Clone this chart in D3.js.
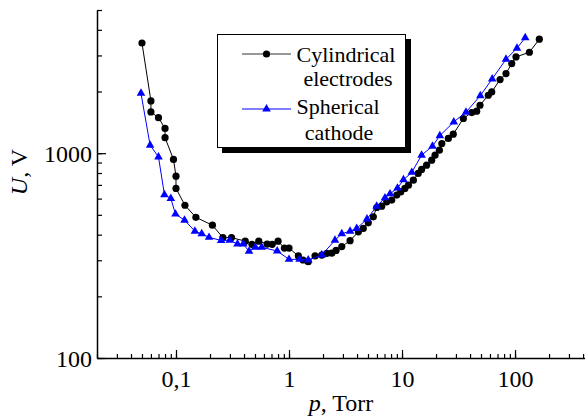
<!DOCTYPE html>
<html><head><meta charset="utf-8">
<script src="https://cdn.jsdelivr.net/npm/d3@7"></script>
<style>body{margin:0;background:#fff}svg{display:block}svg text{font-family:"Liberation Serif","Times New Roman",serif !important}</style>
</head><body><svg id="c" width="585" height="417"></svg>
<script>
const cylP=[0.05,0.06,0.06,0.07,0.08,0.08,0.095,0.1,0.1,0.12,0.15,0.21,0.26,0.31,0.41,0.47,0.54,0.64,0.71,0.8,0.91,1.0,1.21,1.33,1.48,1.7,1.95,2.16,2.39,2.61,2.93,3.47,4.11,4.54,5.03,5.57,5.97,6.61,7.32,8.11,8.98,9.74,10.6,11.4,12.6,13.9,14.9,16.5,18.3,19.6,21.4,22.5,25.7,28.4,34.9,41.4,45.8,49,58,62.2,73.7,83.2,93.5,102,134,164];
const cylU=[3450,1800,1590,1490,1320,1190,932,772,673,557,486,445,387,387,372,359,372,360,359,372,344,344,315,301,295,315,318,324,325,335,350,374,413,429,457,489,543,551,579,590,624,647,673,698,738,796,833,874,924,978,1034,1115,1180,1238,1477,1579,1603,1714,1918,1991,2288,2448,2739,2950,3110,3600];
const sphP=[0.049,0.059,0.07,0.079,0.09,0.099,0.119,0.147,0.169,0.196,0.251,0.299,0.35,0.394,0.443,0.503,0.573,0.786,1.0,1.24,1.48,1.95,2.55,2.93,3.47,3.97,4.9,5.97,7.07,7.83,9.12,10.3,12.2,14.9,18.6,21.6,28.7,36.8,49.3,62.8,83.2,104,123];
const sphU=[1960,1094,959,627,601,504,471,416,404,388,375,376,360,360,332,347,347,333,303,303,301,318,376,404,416,429,477,551,605,633,675,741,806,978,1082,1217,1421,1585,1908,2304,2873,3252,3660];
const xMajor=[0.1,1,10,100];
const xTickLabels=["0,1","1","10","100"];
const yMajor=[100,1000];
const yTickLabels=["100","1000"];
const legendLines=[["Cylindrical","electrodes"],["Spherical","cathode"]];

const FONT='"Liberation Serif","Times New Roman",serif';
const svg=d3.select("#c");
const x=d3.scaleLog().domain([0.02,416]).range([97,585]);
const y=d3.scaleLog().domain([100,5000]).range([358,10]);

function styleAxis(g){
  g.attr("font-family",FONT).attr("font-size",24);
  g.selectAll("path.domain").attr("stroke","#000").attr("stroke-width",1.5);
  g.selectAll(".tick line").attr("stroke","#000").attr("stroke-width",1.2);
  g.selectAll("text").attr("fill","#000");
}
// x axis
const gx1=svg.append("g").attr("transform","translate(0,358)")
  .call(d3.axisBottom(x).tickValues(x.ticks()).tickSize(-4).tickSizeOuter(0).tickFormat(""));
styleAxis(gx1);
const gx2=svg.append("g").attr("transform","translate(0,358)")
  .call(d3.axisBottom(x).tickValues(xMajor).tickSize(-8).tickSizeOuter(0).tickPadding(12).tickFormat((d,i)=>xTickLabels[i]));
styleAxis(gx2); gx2.select("path.domain").remove();
// y axis
const gy1=svg.append("g").attr("transform","translate(97,0)")
  .call(d3.axisLeft(y).tickValues(y.ticks()).tickSize(-5).tickSizeOuter(0).tickFormat(""));
styleAxis(gy1);
const gy2=svg.append("g").attr("transform","translate(97,0)")
  .call(d3.axisLeft(y).tickValues(yMajor).tickSize(-9).tickSizeOuter(0).tickPadding(5).tickFormat((d,i)=>yTickLabels[i]));
styleAxis(gy2); gy2.select("path.domain").remove();
gy2.selectAll("text").attr("dy","0.35em");

// titles
const xt=svg.append("text").attr("x",341).attr("y",411).attr("text-anchor","middle")
  .attr("font-family",FONT).attr("font-size",24);
xt.append("tspan").attr("font-style","italic").text("p");
xt.append("tspan").text(", Torr");
const yt=svg.append("text").attr("transform","translate(27,172) rotate(-90)").attr("text-anchor","middle")
  .attr("font-family",FONT).attr("font-size",24);
yt.append("tspan").attr("font-style","italic").text("U");
yt.append("tspan").text(", V");

const line=d3.line().x(d=>x(d[0])).y(d=>y(d[1]));
const cyl=d3.zip(cylP,cylU), sph=d3.zip(sphP,sphU);
const tri=d3.symbol(d3.symbolTriangle,32);

svg.append("path").datum(cyl).attr("d",line).attr("fill","none").attr("stroke","#000").attr("stroke-width",1);
svg.append("g").selectAll("circle").data(cyl).join("circle")
  .attr("cx",d=>x(d[0])).attr("cy",d=>y(d[1])).attr("r",3.6).attr("fill","#000");
svg.append("path").datum(sph).attr("d",line).attr("fill","none").attr("stroke","#0000ff").attr("stroke-width",1);
svg.append("g").selectAll("path").data(sph).join("path")
  .attr("d",tri).attr("transform",d=>`translate(${x(d[0])},${y(d[1])})`).attr("fill","#0000ff");

// legend
const lg=svg.append("g");
lg.append("rect").attr("x",222).attr("y",39).attr("width",189).attr("height",114).attr("fill","#000");
lg.append("rect").attr("x",217.5).attr("y",34.5).attr("width",188).attr("height",113).attr("fill","#fff").attr("stroke","#000").attr("stroke-width",1);
lg.append("line").attr("x1",242).attr("x2",291).attr("y1",54).attr("y2",54).attr("stroke","#333").attr("stroke-width",1.2);
lg.append("circle").attr("cx",266.5).attr("cy",54).attr("r",3.6).attr("fill","#000");
lg.append("line").attr("x1",242).attr("x2",291).attr("y1",109).attr("y2",109).attr("stroke","#0000ff").attr("stroke-width",1.2);
lg.append("path").attr("d",tri).attr("transform","translate(266.5,109)").attr("fill","#0000ff");
const lx=[[346,348],[338,339]], ly=[[61.5,86],[113.5,140]];
legendLines.forEach((ls,i)=>ls.forEach((t,j)=>{
  lg.append("text").attr("x",lx[i][j]).attr("y",ly[i][j]).attr("text-anchor","middle")
    .attr("font-family",FONT).attr("font-size",22).attr("fill","#000").text(t);
}));
</script></body></html>
